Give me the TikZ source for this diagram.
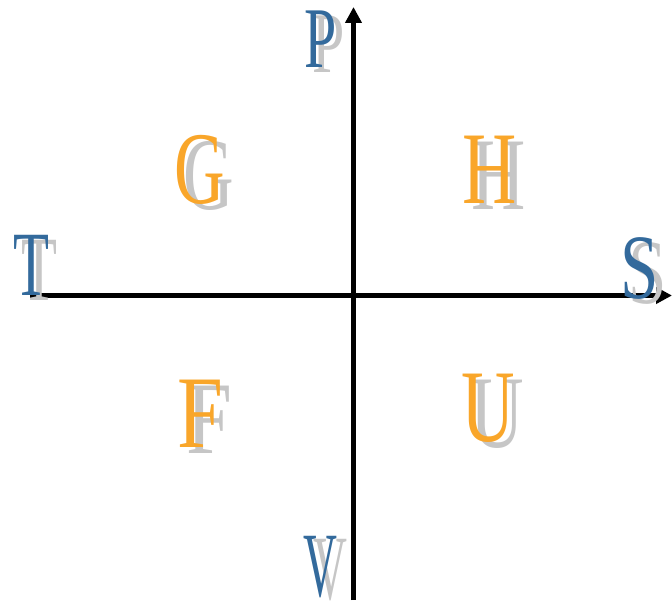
\documentclass[tikz,border=0pt]{standalone}
\usepackage{fontspec}
\setmainfont{Liberation Serif}
\usetikzlibrary{arrows.meta}
\definecolor{axblue}{HTML}{336A9C}
\definecolor{orng}{HTML}{F9A62A}
\definecolor{shd}{HTML}{C6C6C6}
\tikzset{
  blet/.style={inner sep=0pt, anchor=base, font=\fontsize{92}{92}\selectfont, text=axblue},
  olet/.style={inner sep=0pt, anchor=base, font=\fontsize{103}{103}\selectfont, text=orng},
  shad/.style={text=shd},
  axisline/.style={line width=4.5pt, -{Triangle[length=16pt,width=16pt]}}
}
\begin{document}
\begin{tikzpicture}[x=1pt,y=-1pt]
\useasboundingbox (0,0) rectangle (672,602);
% axes
\coordinate (L) at (30,295.5);
\coordinate (R) at (672,295.5);
\coordinate (B) at (353.5,600);
\coordinate (Tp) at (353.5,7);
\draw[axisline] (L) -- (R);
\draw[axisline] (B) -- (Tp);
% shadows
\node[blet,shad,xscale=0.63,yscale=0.94] (Ps) at (329,73) {P};
\node[blet,shad,xscale=0.64] (Ts) at (39,300) {T};
\node[blet,shad,xscale=0.75] (Ss) at (648,303) {S};
\node[blet,shad,xscale=0.51] (Vs) at (330,599) {V};
\node[olet,shad,xscale=0.68] (Gs) at (209,209) {G};
\node[olet,shad,xscale=0.73] (Hs) at (499,209) {H};
\node[olet,shad,xscale=0.8] (Fs) at (209,453) {F};
\node[olet,shad,xscale=0.72] (Us) at (497,447) {U};
% letters
\node[blet,xscale=0.63,yscale=0.94] (P) at (321,67) {P};
\node[blet,xscale=0.64] (T) at (31,295) {T};
\node[blet,xscale=0.75] (S) at (640,298) {S};
\node[blet,xscale=0.51] (V) at (320,596) {V};
\node[olet,xscale=0.68] (G) at (200,203) {G};
\node[olet,xscale=0.73] (H) at (490,203) {H};
\node[olet,xscale=0.8] (F) at (200,447) {F};
\node[olet,xscale=0.72] (U) at (488,441) {U};
\end{tikzpicture}
\end{document}
